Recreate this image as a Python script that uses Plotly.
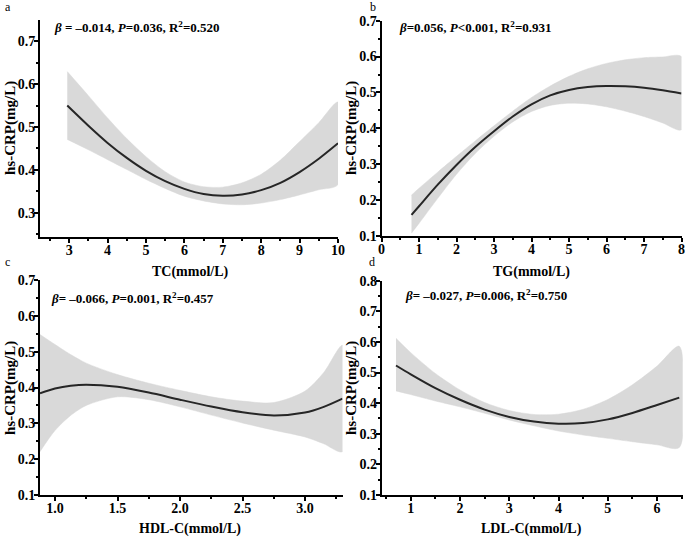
import plotly.graph_objects as go

# ---------------- data ----------------
tc_x     = [2.95, 3.5, 4, 4.5, 5, 5.5, 6, 6.5, 7, 7.5, 8, 8.5, 9, 9.5, 10]
tc_fit   = [0.550, 0.503, 0.463, 0.428, 0.398, 0.374, 0.356, 0.344, 0.340, 0.343, 0.353, 0.370, 0.395, 0.426, 0.462]
tc_upper = [0.629, 0.573, 0.521, 0.473, 0.431, 0.396, 0.372, 0.361, 0.360, 0.370, 0.390, 0.423, 0.466, 0.510, 0.558]
tc_lower = [0.471, 0.447, 0.424, 0.401, 0.378, 0.357, 0.339, 0.328, 0.321, 0.319, 0.323, 0.331, 0.342, 0.354, 0.366]

tg_x     = [0.8, 1, 1.5, 2, 2.5, 3, 3.5, 4, 4.5, 5, 5.5, 6, 6.5, 7, 7.5, 8]
tg_fit   = [0.159, 0.183, 0.243, 0.298, 0.348, 0.392, 0.433, 0.467, 0.492, 0.507, 0.515, 0.518, 0.517, 0.513, 0.506, 0.497]
tg_upper = [0.214, 0.233, 0.278, 0.322, 0.365, 0.407, 0.448, 0.486, 0.518, 0.545, 0.566, 0.581, 0.591, 0.597, 0.599, 0.600]
tg_lower = [0.108, 0.135, 0.205, 0.272, 0.330, 0.378, 0.418, 0.447, 0.464, 0.470, 0.468, 0.460, 0.448, 0.433, 0.415, 0.396]

hdl_x     = [0.88, 1.0, 1.125, 1.25, 1.5, 1.75, 2.0, 2.25, 2.5, 2.75, 3.0, 3.15, 3.3]
hdl_fit   = [0.384, 0.397, 0.405, 0.408, 0.402, 0.386, 0.366, 0.347, 0.331, 0.322, 0.330, 0.346, 0.369]
hdl_upper = [0.548, 0.520, 0.492, 0.468, 0.436, 0.412, 0.392, 0.374, 0.362, 0.358, 0.390, 0.442, 0.518]
hdl_lower = [0.221, 0.280, 0.322, 0.350, 0.374, 0.366, 0.346, 0.323, 0.301, 0.281, 0.262, 0.243, 0.221]

ldl_x     = [0.7, 1, 1.5, 2, 2.5, 3, 3.5, 4, 4.5, 5, 5.5, 6, 6.45]
ldl_fit   = [0.523, 0.494, 0.449, 0.411, 0.379, 0.355, 0.340, 0.333, 0.335, 0.347, 0.368, 0.394, 0.418]
ldl_upper = [0.612, 0.565, 0.497, 0.443, 0.402, 0.376, 0.363, 0.364, 0.380, 0.412, 0.460, 0.521, 0.586]
ldl_lower = [0.440, 0.428, 0.407, 0.388, 0.367, 0.345, 0.326, 0.309, 0.296, 0.285, 0.274, 0.264, 0.255]

panel_letters = ["a", "b", "c", "d"]
x_titles = ["TC(mmol/L)", "TG(mmol/L)", "HDL-C(mmol/L)", "LDL-C(mmol/L)"]
y_title = "hs-CRP(mg/L)"
stats = [
    "<i>β</i> = –0.014, <i>P</i>=0.036, R<sup>2</sup>=0.520",
    "<i>β</i>=0.056, <i>P</i>&lt;0.001, R<sup>2</sup>=0.931",
    "<i>β</i>= –0.066, <i>P</i>=0.001, R<sup>2</sup>=0.457",
    "<i>β</i>= –0.027, <i>P</i>=0.006, R<sup>2</sup>=0.750",
]

W, H = 685, 540
FONT = "Liberation Serif"
BAND = "#d9d9d9"
LINE = "#262626"

panels = [
    dict(x=tc_x, f=tc_fit, u=tc_upper, l=tc_lower,
         px=(40, 338), py=(20, 237), xr=[2.24, 10], yr=[0.244, 0.749],
         xt=dict(tick0=3, dtick=1, minor=0.5), yt=dict(tick0=0.3, dtick=0.1, minor=0.05),
         xfmt=""),
    dict(x=tg_x, f=tg_fit, u=tg_upper, l=tg_lower,
         px=(381.5, 681.5), py=(20.7, 236), xr=[0, 8], yr=[0.1, 0.7],
         xt=dict(tick0=0, dtick=1, minor=0.5), yt=dict(tick0=0.1, dtick=0.1, minor=0.05),
         xfmt=""),
    dict(x=hdl_x, f=hdl_fit, u=hdl_upper, l=hdl_lower,
         px=(40, 342.5), py=(280, 495), xr=[0.88, 3.3], yr=[0.1, 0.7],
         xt=dict(tick0=1.0, dtick=0.5, minor=0.25), yt=dict(tick0=0.1, dtick=0.1, minor=0.05),
         xfmt=".1f"),
    dict(x=ldl_x, f=ldl_fit, u=ldl_upper, l=ldl_lower,
         px=(381.7, 682.7), py=(280.7, 495), xr=[0.41, 6.52], yr=[0.1, 0.8],
         xt=dict(tick0=1, dtick=1, minor=0.5), yt=dict(tick0=0.1, dtick=0.1, minor=0.05),
         xfmt=""),
]

fig = go.Figure()
layout = dict(
    width=W, height=H, margin=dict(l=0, r=0, t=0, b=0, autoexpand=False),
    paper_bgcolor="white", plot_bgcolor="white", showlegend=False,
    font=dict(family=FONT, color="black"),
)
annotations = []

for i, p in enumerate(panels):
    n = "" if i == 0 else str(i + 1)
    xa, ya = "x" + n, "y" + n
    band_x = list(p["x"]) + list(p["x"])[::-1]
    band_y = list(p["u"]) + list(p["l"])[::-1]
    fig.add_trace(go.Scatter(x=band_x, y=band_y, fill="toself", fillcolor=BAND,
                             line=dict(color=BAND, width=0.5, shape="spline", smoothing=0.8),
                             mode="lines", hoverinfo="skip", xaxis=xa, yaxis=ya))
    fig.add_trace(go.Scatter(x=p["x"], y=p["f"], mode="lines",
                             line=dict(color=LINE, width=2, shape="spline", smoothing=0.8),
                             xaxis=xa, yaxis=ya))
    xd = [p["px"][0] / W, p["px"][1] / W]
    yd = [1 - p["py"][1] / H, 1 - p["py"][0] / H]
    common = dict(showline=True, linecolor="black", linewidth=2, ticks="outside",
                  ticklen=4, tickwidth=1.5, tickcolor="black", showgrid=False,
                  zeroline=False, mirror=False, fixedrange=True, automargin=False,
                  tickfont=dict(family=FONT, size=14, color="black", weight="bold"))
    layout["xaxis" + n] = dict(
        domain=xd, range=p["xr"], anchor=ya, tickmode="linear",
        tick0=p["xt"]["tick0"], dtick=p["xt"]["dtick"], tickformat=p["xfmt"],
        ticklabelstandoff=-5,
        minor=dict(ticks="outside", ticklen=2, tickwidth=1.5, tickcolor="black",
                   dtick=p["xt"]["minor"], tick0=p["xt"]["tick0"]),
        **common)
    layout["yaxis" + n] = dict(
        domain=yd, range=p["yr"], anchor=xa, tickmode="linear",
        tick0=p["yt"]["tick0"], dtick=p["yt"]["dtick"],
        ticklabelstandoff=-4,
        minor=dict(ticks="outside", ticklen=2, tickwidth=1.5, tickcolor="black",
                   dtick=p["yt"]["minor"], tick0=p["yt"]["tick0"]),
        **common)

# text placement (pixel positions)
letter_pos = [(8, 7.5), (373, 7), (8, 262), (372, 262)]
xtitle_pos = [(190, 272), (531, 272), (190, 529), (531, 529)]
ytitle_pos = [(10, 128), (351, 128), (10, 388), (351, 388)]
stat_pos = [(52, 27), (397, 27), (49, 298), (403, 295)]

for i in range(4):
    lx, ly = letter_pos[i]
    annotations.append(dict(text=panel_letters[i], x=lx / W, y=1 - ly / H, xref="paper", yref="paper",
                            showarrow=False, xanchor="center", yanchor="middle",
                            font=dict(family=FONT, size=12, color="black")))
    tx, ty = xtitle_pos[i]
    annotations.append(dict(text="<b>" + x_titles[i] + "</b>", x=tx / W, y=1 - ty / H, xref="paper",
                            yref="paper", showarrow=False, xanchor="center", yanchor="middle",
                            font=dict(family=FONT, size=14, color="black")))
    yx, yy = ytitle_pos[i]
    annotations.append(dict(text="<b>" + y_title + "</b>", x=yx / W, y=1 - yy / H, xref="paper",
                            yref="paper", showarrow=False, xanchor="center", yanchor="middle",
                            textangle=-90, font=dict(family=FONT, size=15, color="black")))
    sx, sy = stat_pos[i]
    annotations.append(dict(text="<b>" + stats[i] + "</b>", x=sx / W, y=1 - sy / H, xref="paper",
                            yref="paper", showarrow=False, xanchor="left", yanchor="middle",
                            font=dict(family=FONT, size=13, color="black")))

layout["annotations"] = annotations
fig.update_layout(**layout)
fig.write_html(
    "out.html",
    config={"displayModeBar": False},
    post_script="document.body.style.margin='0';document.body.style.overflow='hidden';",
)
